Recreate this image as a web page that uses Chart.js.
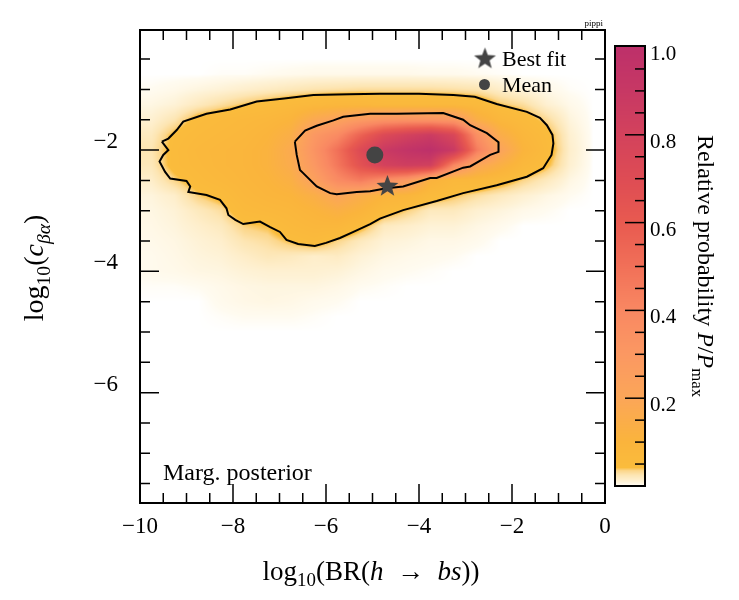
<!DOCTYPE html>
<html>
<head>
<meta charset="utf-8">
<script src="https://cdn.jsdelivr.net/npm/chart.js@4.4.1/dist/chart.umd.min.js"></script>
<style>
  html, body { margin: 0; padding: 0; background: #fff; }
  #wrap { width: 739px; height: 600px; }
</style>
</head>
<body>
<div id="wrap"><canvas id="myChart" width="739" height="600"></canvas></div>
<script>
// axes
const xTicks = [-10, -8, -6, -4, -2, 0]
const xTickLabels = ["\u221210", "\u22128", "\u22126", "\u22124", "\u22122", "0"]
const yTicks = [-6, -4, -2]
const yTickLabels = ["\u22126", "\u22124", "\u22122"]
const cbTicks = [0.2, 0.4, 0.6, 0.8, 1.0]
const cbTickLabels = ["0.2", "0.4", "0.6", "0.8", "1.0"]

// binned relative probability P/Pmax, cell centres
const gridX = [-9.75, -9.25, -8.75, -8.25, -7.75, -7.25, -6.75, -6.25, -5.75, -5.25,
               -4.75, -4.25, -3.75, -3.25, -2.75, -2.25, -1.75, -1.25, -0.75, -0.25]
const gridY = [-0.5, -0.75, -1.0, -1.25, -1.5, -1.75, -2.0, -2.25, -2.5,
               -2.75, -3.0, -3.25, -3.5, -3.75, -4.0, -4.25, -4.5, -4.75]
const prob = [
  [0, 0, 0, 0, 0, 0, 0, 0, 0, 0, 0, 0, 0, 0, 0, 0, 0, 0, 0, 0],
  [0, 0, 0, 0.001, 0.001, 0.002, 0.003, 0.004, 0.004, 0.004, 0.004, 0.004, 0.003, 0.003, 0.002, 0.001, 0, 0, 0, 0],
  [0.002, 0.004, 0.007, 0.01, 0.014, 0.018, 0.022, 0.026, 0.028, 0.03, 0.03, 0.03, 0.03, 0.028, 0.025, 0.015, 0.008, 0.004, 0.001, 0],
  [0.006, 0.01, 0.02, 0.03, 0.04, 0.05, 0.06, 0.07, 0.08, 0.08, 0.07, 0.07, 0.07, 0.07, 0.06, 0.04, 0.03, 0.012, 0.004, 0],
  [0.012, 0.025, 0.05, 0.06, 0.07, 0.08, 0.1, 0.18, 0.225, 0.28, 0.32, 0.33, 0.32, 0.3, 0.14, 0.08, 0.055, 0.032, 0.008, 0],
  [0.02, 0.045, 0.06, 0.07, 0.08, 0.1, 0.14, 0.3, 0.38, 0.56, 0.72, 0.8, 0.86, 0.75, 0.35, 0.15, 0.08, 0.05, 0.012, 0],
  [0.025, 0.05, 0.07, 0.08, 0.09, 0.11, 0.17, 0.33, 0.5, 0.72, 0.88, 0.95, 1.0, 0.88, 0.45, 0.22, 0.1, 0.055, 0.014, 0],
  [0.022, 0.05, 0.065, 0.08, 0.09, 0.11, 0.16, 0.3, 0.47, 0.66, 0.8, 0.84, 0.82, 0.4, 0.2, 0.13, 0.07, 0.045, 0.012, 0],
  [0.015, 0.035, 0.055, 0.07, 0.085, 0.1, 0.13, 0.24, 0.38, 0.45, 0.36, 0.28, 0.11, 0.07, 0.07, 0.055, 0.035, 0.02, 0.006, 0],
  [0.008, 0.015, 0.037, 0.05, 0.075, 0.09, 0.1, 0.14, 0.21, 0.15, 0.1, 0.09, 0.055, 0.042, 0.03, 0.02, 0.012, 0.006, 0.002, 0],
  [0.006, 0.01, 0.02, 0.03, 0.06, 0.07, 0.08, 0.1, 0.13, 0.1, 0.055, 0.037, 0.02, 0.02, 0.012, 0.008, 0.004, 0.002, 0, 0],
  [0.005, 0.008, 0.014, 0.02, 0.037, 0.042, 0.065, 0.08, 0.08, 0.05, 0.02, 0.015, 0.01, 0.01, 0.006, 0.003, 0, 0, 0, 0],
  [0.004, 0.006, 0.01, 0.014, 0.025, 0.03, 0.042, 0.055, 0.035, 0.02, 0.01, 0.008, 0.005, 0.005, 0.003, 0, 0, 0, 0, 0],
  [0.003, 0.005, 0.008, 0.01, 0.016, 0.022, 0.02, 0.015, 0.018, 0.01, 0.006, 0.004, 0.003, 0.002, 0, 0, 0, 0, 0, 0],
  [0.003, 0.004, 0.006, 0.007, 0.01, 0.012, 0.012, 0.012, 0.01, 0.006, 0.003, 0.002, 0.001, 0, 0, 0, 0, 0, 0, 0],
  [0.001, 0.001, 0.002, 0.004, 0.006, 0.007, 0.007, 0.007, 0.005, 0.002, 0.001, 0, 0, 0, 0, 0, 0, 0, 0, 0],
  [0, 0, 0, 0.003, 0.005, 0.006, 0.005, 0.003, 0.002, 0, 0, 0, 0, 0, 0, 0, 0, 0, 0, 0],
  [0, 0, 0, 0.001, 0.002, 0.002, 0.002, 0.001, 0, 0, 0, 0, 0, 0, 0, 0, 0, 0, 0, 0],
]

// credible region contours (outer 95%, inner 68%)
const outerX = [-9.53, -9.39, -9.21, -9.07, -8.57, -8.06, -7.49, -6.9, -6.27, -5.5, -4.84, -4.0, -3.26, -2.8, -2.33,
  -1.68, -1.4, -1.25, -1.13, -1.11, -1.15, -1.33, -1.68, -2.33, -3.05, -3.62, -4.34, -4.84, -5.05, -5.41, -5.7,
  -6.0, -6.24, -6.6, -6.85, -6.99, -7.2, -7.42, -7.6, -7.78, -7.95, -8.1, -8.14, -8.28, -8.57, -8.96, -8.92,
  -9.0, -9.35, -9.46, -9.58, -9.5, -9.39, -9.53]
const outerY = [-1.86, -1.81, -1.67, -1.53, -1.4, -1.33, -1.2, -1.15, -1.09, -1.08, -1.07, -1.07, -1.09, -1.12, -1.24,
  -1.37, -1.47, -1.59, -1.75, -1.89, -2.08, -2.3, -2.44, -2.58, -2.71, -2.84, -2.99, -3.13, -3.22, -3.35, -3.45,
  -3.53, -3.58, -3.55, -3.48, -3.35, -3.27, -3.18, -3.2, -3.22, -3.15, -3.07, -2.96, -2.82, -2.74, -2.69, -2.6,
  -2.51, -2.47, -2.36, -2.19, -2.08, -2.0, -1.86]
const innerX = [-6.67, -6.45, -6.2, -5.84, -5.63, -5.05, -4.48, -3.48, -3.05, -2.9, -2.54, -2.29, -2.29, -2.47,
  -2.9, -3.05, -3.62, -3.76, -4.34, -4.7, -5.05, -5.34, -5.77, -5.91, -6.2, -6.49, -6.56, -6.63, -6.67]
const innerY = [-1.86, -1.68, -1.6, -1.51, -1.45, -1.4, -1.4, -1.39, -1.5, -1.59, -1.72, -1.87, -2.03, -2.08,
  -2.27, -2.29, -2.46, -2.46, -2.6, -2.63, -2.68, -2.69, -2.73, -2.71, -2.6, -2.38, -2.33, -2.08, -1.86]

const bestFit = [-4.68, -2.6]
const mean = [-4.95, -2.08]

// colour map for P/Pmax
const cmapStops = [
  [0, 255, 255, 255], [0.002, 255, 251, 240], [0.01, 254, 242, 214], [0.025, 253, 229, 178],
  [0.035, 252, 214, 138], [0.042, 250, 188, 60], [0.1, 250, 180, 60], [0.2, 251, 166, 88],
  [0.3, 251, 152, 98], [0.4, 249, 136, 98], [0.5, 241, 112, 88], [0.6, 232, 90, 80],
  [0.7, 222, 76, 84], [0.8, 211, 66, 92], [0.9, 199, 56, 100], [1.0, 189, 48, 106],
]
function cmap(v) {
  if (v <= 0) return [255, 255, 255]
  for (let i = 1; i < cmapStops.length; i++) {
    const b = cmapStops[i]
    if (v <= b[0]) {
      const a = cmapStops[i - 1]
      const t = (v - a[0]) / (b[0] - a[0])
      return [a[1] + t * (b[1] - a[1]), a[2] + t * (b[2] - a[2]), a[3] + t * (b[3] - a[3])]
    }
  }
  const l = cmapStops[cmapStops.length - 1]
  return [l[1], l[2], l[3]]
}

function cell(i, j) {
  if (j < 0 || j >= gridY.length) return 0
  i = Math.max(0, Math.min(gridX.length - 1, i))
  return prob[j][i]
}
function sample(xv, yv) {
  const fx = (xv - gridX[0]) / (gridX[1] - gridX[0])
  const fy = (gridY[0] - yv) / (gridY[0] - gridY[1])
  const i = Math.floor(fx), j = Math.floor(fy)
  const tx = fx - i, ty = fy - j
  const a = cell(i, j) * (1 - tx) + cell(i + 1, j) * tx
  const b = cell(i, j + 1) * (1 - tx) + cell(i + 1, j + 1) * tx
  return a * (1 - ty) + b * ty
}

const SERIF = '"Liberation Serif", "Times New Roman", serif'
const ink = "#444444"

function makeStar(r) {
  const c = document.createElement("canvas")
  const s = Math.ceil(r * 2 + 2)
  c.width = s
  c.height = s
  const g = c.getContext("2d")
  g.fillStyle = ink
  g.beginPath()
  for (let k = 0; k < 10; k++) {
    const rr = k % 2 ? r * 0.42 : r
    const ang = -Math.PI / 2 + (k * Math.PI) / 5
    g.lineTo(s / 2 + rr * Math.cos(ang), s / 2 + rr * Math.sin(ang))
  }
  g.closePath()
  g.fill()
  return c
}
const starImg = makeStar(11.5)

function fontFor(kind, size) {
  const sub = kind[0] === "s"
  const it = kind[kind.length - 1] === "i"
  return (it ? "italic " : "") + (sub ? size * 0.7 : size) + "px " + SERIF
}
function drawRich(ctx, parts, x, y, size, align) {
  let total = 0
  const widths = parts.map(p => {
    ctx.font = fontFor(p[1], size)
    const w = ctx.measureText(p[0]).width
    total += w
    return w
  })
  let cx = align === "center" ? x - total / 2 : x
  parts.forEach((p, k) => {
    ctx.font = fontFor(p[1], size)
    ctx.fillText(p[0], cx, p[1][0] === "s" ? y + size * 0.24 : y)
    cx += widths[k]
  })
}

const heatmap = {
  id: "heatmap",
  beforeDatasetsDraw(chart) {
    const { ctx, chartArea: a, scales } = chart
    const w = Math.round(a.right - a.left), h = Math.round(a.bottom - a.top)
    const img = ctx.createImageData(w, h)
    for (let py = 0; py < h; py++) {
      const yv = scales.y.getValueForPixel(a.top + py + 0.5)
      for (let px = 0; px < w; px++) {
        const xv = scales.x.getValueForPixel(a.left + px + 0.5)
        const c = cmap(sample(xv, yv))
        const o = (py * w + px) * 4
        img.data[o] = c[0]
        img.data[o + 1] = c[1]
        img.data[o + 2] = c[2]
        img.data[o + 3] = 255
      }
    }
    ctx.putImageData(img, Math.round(a.left), Math.round(a.top))
  },
}

const frame = {
  id: "frame",
  afterDatasetsDraw(chart) {
    const { ctx, chartArea: a, scales } = chart
    ctx.save()
    ctx.strokeStyle = "#000"
    ctx.lineWidth = 1.5
    for (let v = -10; v <= 0.001; v += 0.5) {
      const px = scales.x.getPixelForValue(v)
      const len = Math.abs(v % 2) < 1e-6 ? 19 : 10
      ctx.beginPath()
      ctx.moveTo(px, a.bottom); ctx.lineTo(px, a.bottom - len)
      ctx.moveTo(px, a.top); ctx.lineTo(px, a.top + len)
      ctx.stroke()
    }
    for (let v = -7.5; v <= -0.4; v += 0.5) {
      const py = scales.y.getPixelForValue(v)
      const len = Math.abs(v % 2) < 1e-6 ? 19 : 10
      ctx.beginPath()
      ctx.moveTo(a.left, py); ctx.lineTo(a.left + len, py)
      ctx.moveTo(a.right, py); ctx.lineTo(a.right - len, py)
      ctx.stroke()
    }
    ctx.lineWidth = 2
    ctx.strokeRect(a.left, a.top, a.right - a.left, a.bottom - a.top)
    ctx.restore()
  },
  afterDraw(chart) {
    const { ctx } = chart
    ctx.save()
    ctx.fillStyle = "#000"
    ctx.textBaseline = "alphabetic"

    // axis titles
    drawRich(ctx, [["log", "r"], ["10", "sr"], ["(BR(", "r"], ["h", "i"], ["  \u2192  ", "r"], ["bs", "i"], ["))", "r"]],
      371, 580, 27, "center")
    ctx.save()
    ctx.translate(43, 268)
    ctx.rotate(-Math.PI / 2)
    drawRich(ctx, [["log", "r"], ["10", "sr"], ["(", "r"], ["c", "i"], ["\u03b2\u03b1", "si"], [")", "r"]], 0, 0, 28, "center")
    ctx.restore()

    // legend
    ctx.drawImage(starImg, 485 - starImg.width / 2, 59 - starImg.height / 2)
    ctx.fillStyle = ink
    ctx.beginPath()
    ctx.arc(484.5, 84.5, 5.5, 0, Math.PI * 2)
    ctx.fill()
    ctx.fillStyle = "#000"
    ctx.font = "22px " + SERIF
    ctx.fillText("Best fit", 502, 66)
    ctx.fillText("Mean", 502, 92)

    ctx.font = "24px " + SERIF
    ctx.fillText("Marg. posterior", 163, 480)
    ctx.font = "9px " + SERIF
    ctx.textAlign = "right"
    ctx.fillText("pippi", 603, 26)
    ctx.textAlign = "left"

    // colour bar
    const cbL = 615, cbW = 30, cbTop = 46, cb0 = 486, cbUnit = 439
    for (let py = cbTop; py < cb0; py++) {
      const c = cmap((cb0 - py - 0.5) / cbUnit)
      ctx.fillStyle = "rgb(" + c.map(Math.round).join(",") + ")"
      ctx.fillRect(cbL, py, cbW, 1)
    }
    ctx.strokeStyle = "#000"
    ctx.lineWidth = 1.5
    for (let k = 1; k < 20; k++) {
      const v = k * 0.05
      const py = cb0 - v * cbUnit
      const len = k % 4 === 0 ? 20 : 10
      ctx.beginPath()
      ctx.moveTo(cbL + cbW, py); ctx.lineTo(cbL + cbW - len, py)
      ctx.stroke()
    }
    ctx.lineWidth = 2
    ctx.strokeRect(cbL, cbTop, cbW, cb0 - cbTop)
    ctx.fillStyle = "#000"
    ctx.font = "21px " + SERIF
    cbTicks.forEach((v, k) => ctx.fillText(cbTickLabels[k], 650, cb0 - v * cbUnit + 13))

    ctx.save()
    ctx.translate(698, 266)
    ctx.rotate(Math.PI / 2)
    drawRich(ctx, [["Relative probability ", "r"], ["P", "i"], ["/", "r"], ["P", "i"], ["max", "sr"]], 0, 0, 24, "center")
    ctx.restore()
    ctx.restore()
  },
}

const data = {
  datasets: [
    {
      label: "Best fit",
      data: [{ x: bestFit[0], y: bestFit[1] }],
      pointStyle: starImg,
      pointRadius: 12,
    },
    {
      label: "Mean",
      data: [{ x: mean[0], y: mean[1] }],
      pointStyle: "circle",
      pointRadius: 8.5,
      backgroundColor: ink,
      borderWidth: 0,
    },
    {
      label: "68% CR",
      data: innerX.map((v, k) => ({ x: v, y: innerY[k] })),
      showLine: true,
      pointRadius: 0,
      borderColor: "#000",
      borderWidth: 2,
      tension: 0,
    },
    {
      label: "95% CR",
      data: outerX.map((v, k) => ({ x: v, y: outerY[k] })),
      showLine: true,
      pointRadius: 0,
      borderColor: "#000",
      borderWidth: 2,
      tension: 0,
    },
  ],
}

const tickFont = { family: SERIF, size: 23 }

const config = {
  type: "scatter",
  data: data,
  options: {
    responsive: false,
    animation: false,
    devicePixelRatio: 1,
    layout: { padding: { top: 30, right: 134, left: 0, bottom: 0 } },
    plugins: { legend: { display: false }, tooltip: { enabled: false } },
    scales: {
      x: {
        type: "linear",
        min: -10,
        max: 0,
        afterBuildTicks: s => { s.ticks = xTicks.map(v => ({ value: v })) },
        afterFit: s => { s.height = 97; s.paddingLeft = 0; s.paddingRight = 0 },
        grid: { display: false, drawTicks: false },
        border: { display: false },
        ticks: {
          callback: (v, i) => xTickLabels[i],
          font: tickFont,
          color: "#000",
          padding: 10,
          maxRotation: 0,
          autoSkip: false,
        },
      },
      y: {
        type: "linear",
        min: -7.82,
        max: -0.02,
        afterBuildTicks: s => { s.ticks = yTicks.map(v => ({ value: v })) },
        afterFit: s => { s.width = 140; s.paddingTop = 0; s.paddingBottom = 0 },
        grid: { display: false, drawTicks: false },
        border: { display: false },
        ticks: {
          callback: (v, i) => yTickLabels[i],
          font: tickFont,
          color: "#000",
          padding: 22,
          labelOffset: -8,
          autoSkip: false,
        },
      },
    },
  },
  plugins: [heatmap, frame],
}

const myChart = new Chart(document.getElementById("myChart"), config)
</script>
</body>
</html>
